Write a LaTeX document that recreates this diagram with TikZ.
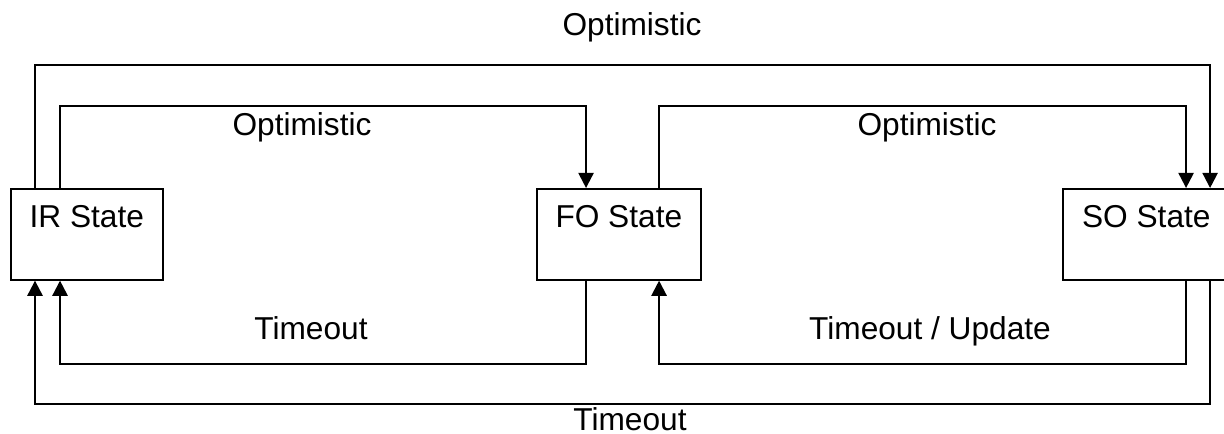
\documentclass[tikz,border=0pt]{standalone}
\usepackage{fontspec}
\setmainfont{Liberation Sans}
\usetikzlibrary{arrows.meta}
\begin{document}
\begin{tikzpicture}[x=0.01cm, y=-0.01cm, >={Triangle[length=4.3pt,width=4.3pt]}, every node/.style={font=\fontsize{9}{11}\selectfont}, snode/.style={draw, line width=0.45pt, anchor=north west, inner sep=0pt, minimum width=#1, text height=11.1pt, text depth=14.8pt}, snode/.default=46.66pt, tnode/.style={anchor=base, inner sep=0pt}]
    \useasboundingbox (0,0) rectangle (1224,434);

    \node[snode=43.25pt] (ir) at (10,188) {IR State};
    \node[snode] (fo) at (536,188) {FO State};
    \node[snode=47.5pt] (so) at (1062,188) {SO State};

    \node[tnode] (optfo) at (302,136) {Optimistic};
    \node[tnode] (optso) at (927,136) {Optimistic};
    \node[tnode] (opttop) at (632,36) {Optimistic};
    \node[tnode] (tmir) at (311,340) {Timeout};
    \node[tnode] (tmfo) at (930,340) {Timeout / Update};
    \node[tnode] (tmbot) at (630,431) {Timeout};

   \begin{scope}[line width=0.6pt]
    \draw[->] ([xshift=0.5cm]ir.north west) -- ++(0,-82) -| ([xshift=0.5cm]fo.north west);
    \draw[->] ([xshift=1.23cm]fo.north west) -- ++(0,-82) -| ([xshift=1.24cm]so.north west);
    \draw[->] ([xshift=0.25cm]ir.north west) -- ++(0,-123) -| ([xshift=1.48cm]so.north west);
    \draw[->] ([xshift=0.5cm]fo.south west) -- ++(0,83) -| ([xshift=0.5cm]ir.south west);
    \draw[->] ([xshift=1.24cm]so.south west) -- ++(0,83) -| ([xshift=1.23cm]fo.south west);
    \draw[->] ([xshift=1.48cm]so.south west) -- ++(0,123) -| ([xshift=0.25cm]ir.south west);
   \end{scope}
\end{tikzpicture}
\end{document}
